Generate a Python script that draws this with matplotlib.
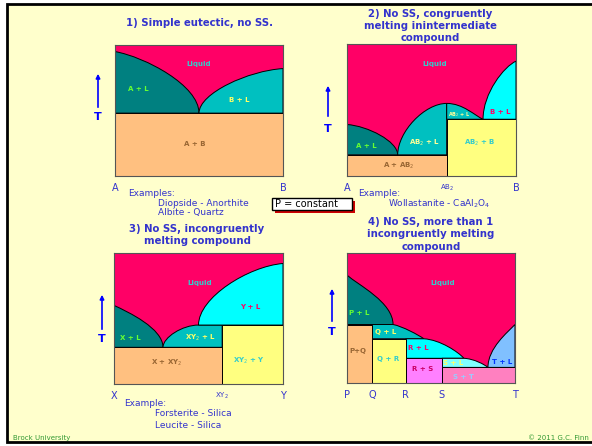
import matplotlib
matplotlib.use('Agg')
from matplotlib import pyplot as plt
from matplotlib.path import Path
from matplotlib.patches import PathPatch, Rectangle

# composition runs 0 (left component) -> 1 (right component), temperature 0-100 (arbitrary)
# 1) simple eutectic
p1_melt = [95, 82]              # A, B
p1_eut = (0.50, 48)

# 2) congruently melting AB2
p2_melt = [39, 87]              # A, B
p2_ab2 = (0.59, 55)             # composition, melting T
p2_eut = [(0.30, 16), (0.805, 43)]

# 3) incongruently melting XY2
p3_melt = [60, 92]              # X, Y
p3_xy2 = 0.64
p3_eut = (0.29, 28)
p3_per = (0.50, 45)

# 4) P, Q, R, S, T
p4_comp = [0.0, 0.15, 0.35, 0.565, 1.0]
p4_melt = [83, 45]              # P, T
p4_inv = [(0.274, 45), (0.458, 34), (0.696, 19), (0.839, 12)]

W, H = 592, 446
BLUE = '#3333CC'
MAG = '#FF0066'
DTEAL = '#008080'
TEAL = '#00C0C0'
CYAN = '#00FFFF'
ORANGE = '#FFC080'
YELLOW = '#FFFF80'
LCYAN = '#80FFFF'
LBLUE = '#80C0FF'
VIOLET = '#FF80FF'
PINK = '#FF80C0'

K = 0.45


def arc(p, q, flat=1.0, steep=1.0):
    # cubic from p to q: flat at the hot end, steep at the cold end
    hot, cold = (p, q) if p[1] > q[1] else (q, p)
    ch = (hot[0] + K * (cold[0] - hot[0]) * flat, hot[1] + K * (cold[1] - hot[1]) * (1 - flat))
    cc = (cold[0] + K * (hot[0] - cold[0]) * (1 - steep), cold[1] + K * (hot[1] - cold[1]) * steep)
    c1, c2 = (ch, cc) if p[1] > q[1] else (cc, ch)
    return [c1, c2, q]


def field(ax, start, steps, color):
    verts, codes = [start], [Path.MOVETO]
    for s in steps:
        if isinstance(s, list):
            verts += s
            codes += [Path.CURVE4] * 3
        else:
            verts.append(s)
            codes.append(Path.LINETO)
    verts.append(start)
    codes.append(Path.CLOSEPOLY)
    ax.add_patch(PathPatch(Path(verts, codes), fc=color, ec='black', lw=0.7))


def panel(box, ticks, labels):
    x0, y0, x1, y1 = box
    ax = fig.add_axes([x0 / W, 1 - y1 / H, (x1 - x0) / W, (y1 - y0) / H])
    ax.set_xlim(0, 1)
    ax.set_ylim(0, 100)
    ax.set_facecolor(MAG)
    ax.set_yticks([])
    ax.set_xticks(ticks, labels)
    ax.tick_params(length=0, pad=5, labelsize=7, labelcolor=BLUE)
    for t in ax.get_xticklabels():
        if '$' in t.get_text():
            t.set_fontsize(5)
    for s in ax.spines.values():
        s.set_color('#555555')
        s.set_linewidth(0.8)
    return ax


fig = plt.figure(figsize=(W / 100, H / 100), dpi=100)
bg = fig.add_axes([0, 0, 1, 1])
bg.set_xlim(0, W)
bg.set_ylim(H, 0)
bg.axis('off')
bg.add_patch(Rectangle((7, 4), 620, 438, fc='#FFFFCC', ec='black', lw=2))

# 1) simple eutectic
ax1 = panel((115, 45, 283, 176), [0, 1], ['A', 'B'])
a, b = p1_melt
ex, et = p1_eut
field(ax1, (0, et), [(0, a), arc((0, a), (ex, et), flat=0.8)], DTEAL)
field(ax1, (ex, et), [arc((ex, et), (1, b), flat=0.9), (1, et)], TEAL)
field(ax1, (0, 0), [(1, 0), (1, et), (0, et)], ORANGE)

# 2) congruent
ax2 = panel((347, 44, 516, 176), [0, p2_ab2[0], 1], ['A', 'AB$_2$', 'B'])
a, b = p2_melt
(e1x, e1t), (e2x, e2t) = p2_eut
cx, ct = p2_ab2
field(ax2, (0, e1t), [(0, a), arc((0, a), (e1x, e1t), flat=0.9)], DTEAL)
field(ax2, (e1x, e1t), [arc((e1x, e1t), (cx, ct)), (cx, e1t)], TEAL)
field(ax2, (cx, ct), [arc((cx, ct), (e2x, e2t), steep=0.5), (cx, e2t)], TEAL)
field(ax2, (e2x, e2t), [arc((e2x, e2t), (1, b), flat=0.8), (1, e2t)], CYAN)
field(ax2, (0, 0), [(cx, 0), (cx, e1t), (0, e1t)], ORANGE)
field(ax2, (cx, 0), [(1, 0), (1, e2t), (cx, e2t)], YELLOW)

# 3) incongruent
ax3 = panel((114, 253, 283, 384), [0, p3_xy2, 1], ['X', 'XY$_2$', 'Y'])
a, b = p3_melt
ex, et = p3_eut
px, pt = p3_per
field(ax3, (0, et), [(0, a), arc((0, a), (ex, et), flat=0.65)], DTEAL)
field(ax3, (ex, et), [arc((ex, et), (px, pt)), (p3_xy2, pt), (p3_xy2, et)], TEAL)
field(ax3, (px, pt), [arc((px, pt), (1, b), flat=0.9), (1, pt)], CYAN)
field(ax3, (0, 0), [(p3_xy2, 0), (p3_xy2, et), (0, et)], ORANGE)
field(ax3, (p3_xy2, 0), [(1, 0), (1, pt), (p3_xy2, pt)], YELLOW)

# 4) several incongruent compounds
ax4 = panel((347, 253, 515, 383), p4_comp, ['P', 'Q', 'R', 'S', 'T'])
P, Q, R, S, T = p4_comp
(x1, t1), (x2, t2), (x3, t3), (x4, t4) = p4_inv
field(ax4, (0, t1), [(0, p4_melt[0]), arc((0, p4_melt[0]), (x1, t1), flat=0.55)], DTEAL)
field(ax4, (Q, t1), [(x1, t1), arc((x1, t1), (x2, t2), flat=0.7, steep=0.6), (Q, t2)], TEAL)
field(ax4, (R, t2), [(x2, t2), arc((x2, t2), (x3, t3), flat=0.9, steep=0.7), (R, t3)], CYAN)
field(ax4, (S, t3), [(x3, t3), arc((x3, t3), (x4, t4), flat=0.9, steep=0.7), (S, t4)], LCYAN)
field(ax4, (x4, t4), [arc((x4, t4), (1, p4_melt[1]), flat=0.6), (1, t4)], LBLUE)
field(ax4, (0, 0), [(Q, 0), (Q, t1), (0, t1)], ORANGE)
field(ax4, (Q, 0), [(R, 0), (R, t2), (Q, t2)], YELLOW)
field(ax4, (R, 0), [(S, 0), (S, t3), (R, t3)], VIOLET)
field(ax4, (S, 0), [(1, 0), (1, t4), (S, t4)], PINK)

# overlay for the texts, on top of the panels
fg = fig.add_axes([0, 0, 1, 1])
fg.set_xlim(0, W)
fg.set_ylim(H, 0)
fg.axis('off')
fg.patch.set_alpha(0)

# phase field labels (pixel positions on the slide)
labels = [
    ('Liquid', 199, 64, '#33CCCC'), ('A + L', 138, 89, '#66FF33'),
    ('B + L', 239, 100, '#FFFF66'), ('A + B', 195, 144, '#996633'),
    ('Liquid', 435, 64, '#33CCCC'), ('A + L', 366, 146, '#66FF33'),
    ('AB$_2$ + L', 425, 143, '#FFFF99'), ('B + L', 500, 112, MAG),
    ('AB$_2$ + B', 480, 143, '#33CCCC'), ('A + AB$_2$', 399, 166, '#996633'),
    ('Liquid', 200, 283, '#33CCCC'), ('Y + L', 250, 307, MAG),
    ('X + L', 130, 338, '#66FF33'), ('XY$_2$ + L', 200, 338, '#FFFF66'),
    ('X + XY$_2$', 167, 363, '#996633'), ('XY$_2$ + Y', 249, 361, '#33CCCC'),
    ('Liquid', 443, 283, '#33CCCC'), ('P + L', 359, 313, '#66FF33'),
    ('Q + L', 386, 332, '#FFFF66'), ('P+Q', 358, 351, '#996633'),
    ('Q + R', 388, 359, '#33CCCC'), ('R + L', 418, 348, MAG),
    ('R + S', 423, 369, '#CC0066'), ('S + L', 453, 363, '#FFFF66'),
    ('T + L', 502, 362, '#0033FF'), ('S + T', 463, 377, '#99CCFF'),
]
for txt, x, y, c in labels:
    fg.text(x, y, txt, color=c, fontsize=5, fontweight='bold', ha='center', va='center')
fg.text(459, 115, 'AB$_2$ + L', color='#FFFF99', fontsize=3.5, fontweight='bold',
        ha='center', va='center')

# titles
titles = [
    (200, [23], ['1) Simple eutectic, no SS.']),
    (430, [14, 26, 38], ['2) No SS, congruently', 'melting inintermediate', 'compound']),
    (197, [229, 241], ['3) No SS, incongruently', 'melting compound']),
    (431, [222, 234, 247], ['4) No SS, more than 1', 'incongruently melting', 'compound']),
]
for x, ys, lines in titles:
    for y, line in zip(ys, lines):
        fg.text(x, y, line, color=BLUE, fontsize=7.3, fontweight='bold', ha='center', va='center')

# T arrows
for x, y0, y1, yt in [(98, 110, 71, 117), (328, 119, 83, 129), (102, 332, 292, 339), (332, 324, 286, 332)]:
    fg.annotate('', xy=(x, y1), xytext=(x, y0),
                arrowprops=dict(arrowstyle='-|>', color='#0000FF', lw=1.2, mutation_scale=6))
    fg.text(x, yt, 'T', color='#0000FF', fontsize=8, fontweight='bold', ha='center', va='center')

# examples
ex_text = [
    (128, 193, 'Examples:'), (158, 203, 'Diopside - Anorthite'), (158, 213, 'Albite - Quartz'),
    (358, 194, 'Example:'), (388, 204, 'Wollastanite - CaAl$_2$O$_4$'),
    (124, 403, 'Example:'), (155, 414, 'Forsterite - Silica'), (155, 425, 'Leucite - Silica'),
]
for x, y, txt in ex_text:
    fg.text(x, y, txt, color=BLUE, fontsize=6.5, ha='left', va='center')

# P = constant box
fg.add_patch(Rectangle((275, 201), 80, 12, fc='#CC0000', ec='none'))
fg.add_patch(Rectangle((272, 198), 80, 12, fc='white', ec='black', lw=1))
fg.text(275, 204, 'P = constant', color='black', fontsize=7, ha='left', va='center')

fg.text(13, 438, 'Brock University', color='#339933', fontsize=5, ha='left', va='center')
fg.text(528, 438, '\u00a9 2011 G.C. Finn', color='#339933', fontsize=5, ha='left', va='center')

fig.savefig('out.png', dpi=100)
